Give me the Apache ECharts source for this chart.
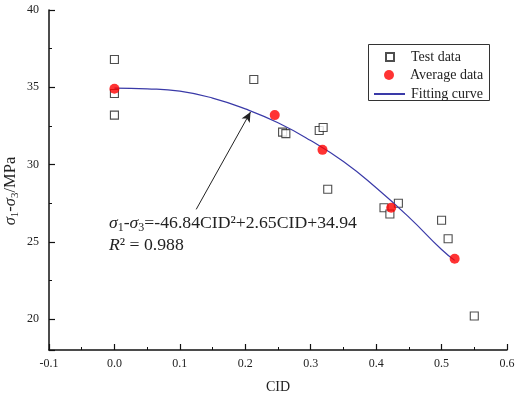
<!DOCTYPE html>
<html>
<head>
<meta charset="utf-8">
<script src="https://cdn.jsdelivr.net/npm/echarts@6/dist/echarts.min.js"></script>
<style>
    html, body { margin: 0; padding: 0; background: #fff; }
    #main { width: 519px; height: 395px; }
</style>
</head>
<body>
<div id="main"></div>
<script>
// test data (CID, sigma1-sigma3)
var testCid = [0, 0, 0, 0.213, 0.257, 0.262, 0.313, 0.319, 0.326, 0.412, 0.421, 0.434, 0.500, 0.510, 0.550];
var testVal = [36.8, 34.6, 33.2, 35.5, 32.1, 32.0, 32.2, 32.4, 28.4, 27.2, 26.8, 27.5, 26.4, 25.2, 20.2];
// average data
var avgCid = [0, 0.245, 0.318, 0.423, 0.520];
var avgVal = [34.9, 33.2, 30.95, 27.2, 23.9];
// fitting curve
var fitCid = [0, 0.05, 0.1, 0.15, 0.2, 0.25, 0.3, 0.35, 0.4, 0.45, 0.5, 0.52];
var fitVal = [34.94, 34.9, 34.75, 34.3, 33.6, 32.7, 31.55, 30.2, 28.5, 26.6, 24.5, 23.8];
// arrow of the annotation
var arrowFrom = [0.125, 27.1];
var arrowTo = [0.208, 33.4];

var font = '"Liberation Serif", "Times New Roman", serif';
var ink = '#222';

function pairs(xs, ys) {
    return xs.map(function (x, i) { return [x, ys[i]]; });
}

// one legend per entry, so each icon gets its own size
function legendBox(name, left, top, w, h, textPad, extra) {
    var lg = {
        show: true,
        data: [name],
        left: left,
        top: top,
        padding: 0,
        itemWidth: w,
        itemHeight: h,
        selectedMode: false,
        textStyle: { fontFamily: font, fontSize: 14, color: ink, padding: [0, 0, 0, textPad] }
    };
    if (extra) lg.data = [Object.assign({ name: name }, extra)];
    return lg;
}

var chart = echarts.init(document.getElementById('main'));

var option = {
    backgroundColor: '#fff',
    animation: false,
    textStyle: { fontFamily: font, color: ink },
    grid: { left: 49, right: 12, top: 10, bottom: 45, outerBoundsMode: 'none' },
    legend: [
        legendBox('Test data', 385, 50, 8, 8, 12),
        legendBox('Average data', 384, 68, 10, 10, 11),
        legendBox('Fitting curve', 373, 87, 31, 10, 1, { itemStyle: { opacity: 0 } })
    ],
    xAxis: {
        type: 'value',
        min: -0.1,
        max: 0.6,
        interval: 0.1,
        name: 'CID',
        nameLocation: 'middle',
        nameGap: 30,
        nameTextStyle: { fontFamily: font, fontSize: 14, color: ink },
        axisLine: { onZero: false, lineStyle: { color: '#111', width: 1.5 } },
        axisTick: { inside: true, length: 6, lineStyle: { color: '#111', width: 1.2 } },
        minorTick: { show: true, splitNumber: 2, length: 3, lineStyle: { color: '#111', width: 1 } },
        splitLine: { show: false },
        axisLabel: {
            fontFamily: font, fontSize: 12, color: ink, margin: 8,
            formatter: function (v) { return v.toFixed(1); }
        }
    },
    yAxis: {
        type: 'value',
        min: 18,
        max: 40,
        splitNumber: 5,
        axisLine: { onZero: false, lineStyle: { color: '#111', width: 1.5 } },
        axisTick: { inside: true, length: 6, lineStyle: { color: '#111', width: 1.2 } },
        minorTick: { show: true, splitNumber: 2, length: 3, lineStyle: { color: '#111', width: 1 } },
        splitLine: { show: false },
        axisLabel: { fontFamily: font, fontSize: 12, color: ink, margin: 10, showMinLabel: false }
    },
    series: [
        {
            name: 'Fitting curve',
            type: 'line',
            data: pairs(fitCid, fitVal),
            smooth: true,
            symbol: 'none',
            lineStyle: { color: '#3a3aa8', width: 1.2 },
            itemStyle: { color: '#3a3aa8' },
            z: 3,
            markLine: {
                silent: true,
                symbol: ['none', 'arrow'],
                symbolSize: [7, 10],
                label: { show: false },
                lineStyle: { color: ink, width: 1, type: 'solid' },
                data: [[{ coord: arrowFrom }, { coord: arrowTo }]]
            }
        },
        {
            name: 'Test data',
            type: 'scatter',
            data: pairs(testCid, testVal),
            symbol: 'rect',
            symbolSize: 8,
            itemStyle: { color: '#fff', borderColor: ink, borderWidth: 1.1 },
            z: 2
        },
        {
            name: 'Average data',
            type: 'scatter',
            data: pairs(avgCid, avgVal),
            symbol: 'circle',
            symbolSize: 10,
            itemStyle: { color: '#ff0000' },
            z: 4
        }
    ],
    graphic: [
        // legend frame
        {
            type: 'rect',
            shape: { x: 368.5, y: 44.5, width: 121, height: 56 },
            style: { fill: 'none', stroke: '#333', lineWidth: 1 },
            silent: true
        },
        // y axis title
        {
            type: 'text',
            x: 11,
            y: 191,
            rotation: Math.PI / 2,
            style: {
                text: '{i|σ}{s|1}{n|-}{i|σ}{s|3}{n|/MPa}',
                align: 'center',
                verticalAlign: 'middle',
                fill: ink,
                rich: {
                    i: { fontFamily: font, fontSize: 16.5, fontStyle: 'italic', lineHeight: 20 },
                    n: { fontFamily: font, fontSize: 16.5, lineHeight: 20 },
                    s: { fontFamily: font, fontSize: 11, lineHeight: 8, verticalAlign: 'bottom' }
                }
            }
        },
        {
            type: 'text',
            left: 109,
            top: 214,
            style: {
                text: '{i|σ}{s|1}{n|-}{i|σ}{s|3}{n|=-46.84CID²+2.65CID+34.94}',
                fill: ink,
                rich: {
                    i: { fontFamily: font, fontSize: 17.7, fontStyle: 'italic', lineHeight: 21 },
                    n: { fontFamily: font, fontSize: 17.7, lineHeight: 21 },
                    s: { fontFamily: font, fontSize: 12, lineHeight: 8, verticalAlign: 'bottom' }
                }
            }
        },
        {
            type: 'text',
            left: 109,
            top: 236,
            style: {
                text: '{i|R}{n|² = 0.988}',
                fill: ink,
                rich: {
                    i: { fontFamily: font, fontSize: 17.7, fontStyle: 'italic', lineHeight: 21 },
                    n: { fontFamily: font, fontSize: 17.7, lineHeight: 21 }
                }
            }
        }
    ]
};

chart.setOption(option);
</script>
</body>
</html>
